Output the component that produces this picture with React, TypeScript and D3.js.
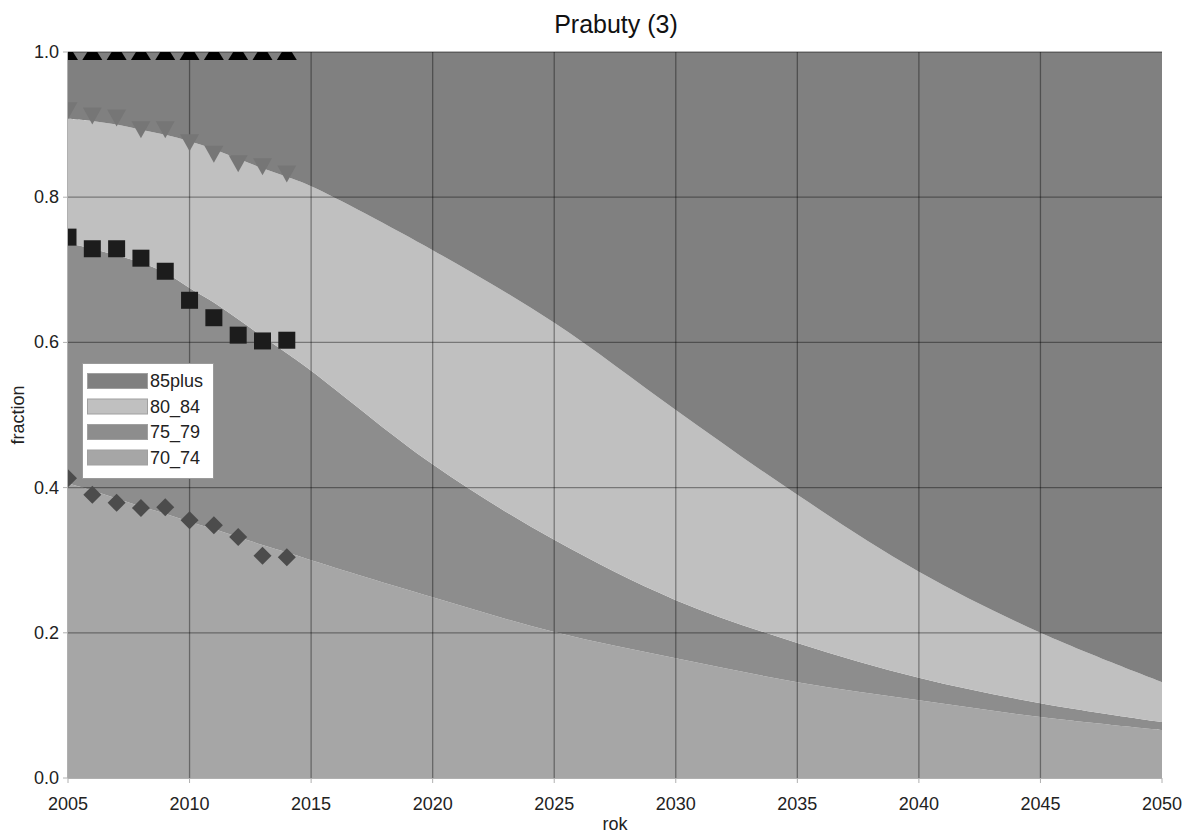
import React from "react";
import * as d3 from "d3";

// ---- data ----
const years = [2005, 2006, 2007, 2008, 2009, 2010, 2011, 2012, 2013, 2014, 2015, 2020, 2025, 2030, 2035, 2040, 2045, 2050];
const s70_74 = [0.406, 0.396, 0.385, 0.374, 0.364, 0.353, 0.343, 0.332, 0.321, 0.311, 0.300, 0.249, 0.201, 0.165, 0.132, 0.107, 0.084, 0.066];
const s75_79 = [0.331, 0.333, 0.335, 0.336, 0.332, 0.322, 0.312, 0.300, 0.287, 0.274, 0.261, 0.183, 0.127, 0.080, 0.054, 0.031, 0.019, 0.011];
const s80_84 = [0.171, 0.176, 0.180, 0.183, 0.190, 0.202, 0.211, 0.221, 0.232, 0.243, 0.254, 0.295, 0.299, 0.262, 0.204, 0.146, 0.097, 0.055];
const s85plus = [0.092, 0.095, 0.100, 0.107, 0.114, 0.123, 0.134, 0.147, 0.160, 0.172, 0.185, 0.273, 0.373, 0.493, 0.610, 0.716, 0.800, 0.868];

const obsYears = [2005, 2006, 2007, 2008, 2009, 2010, 2011, 2012, 2013, 2014];
const obs85 = [1, 1, 1, 1, 1, 1, 1, 1, 1, 1];
const obs80 = [0.919, 0.912, 0.909, 0.893, 0.893, 0.875, 0.859, 0.846, 0.842, 0.832];
const obs75 = [0.745, 0.729, 0.729, 0.716, 0.698, 0.658, 0.634, 0.610, 0.602, 0.603];
const obs70 = [0.413, 0.390, 0.379, 0.372, 0.373, 0.355, 0.348, 0.332, 0.306, 0.304];

const seriesKeys = ["70_74", "75_79", "80_84", "85plus"];
const legendKeys = ["85plus", "80_84", "75_79", "70_74"];
const xTicks = [2005, 2010, 2015, 2020, 2025, 2030, 2035, 2040, 2045, 2050];
const yTicks = [0, 0.2, 0.4, 0.6, 0.8, 1.0];
const title = "Prabuty (3)";
const xLabel = "rok";
const yLabel = "fraction";

const fills: Record<string, string> = {
  "85plus": "#808080",
  "80_84": "#c0c0c0",
  "75_79": "#8d8d8d",
  "70_74": "#a6a6a6",
};

const W = 1186;
const H = 835;
const M = { left: 68, right: 1162, top: 52, bottom: 778 };
const FONT = "'Liberation Sans', Arial, sans-serif";

export default function App() {
  const x = d3.scaleLinear().domain([2005, 2050]).range([M.left, M.right]);
  const y = d3.scaleLinear().domain([0, 1]).range([M.bottom, M.top]);

  const rows = years.map((yr, i) => ({
    year: yr,
    "70_74": s70_74[i],
    "75_79": s75_79[i],
    "80_84": s80_84[i],
    "85plus": s85plus[i],
  }));
  const stack = d3.stack<any>().keys(seriesKeys);
  const layers = stack(rows);
  const area = d3
    .area<any>()
    .x((d) => x(d.data.year))
    .y0((d) => y(d[0]))
    .y1((d) => y(d[1]))
    .curve(d3.curveCatmullRom.alpha(0.5));

  const triUp = (w: number, h: number) => `M0,${-h / 2}L${w / 2},${h / 2}L${-w / 2},${h / 2}Z`;
  const triDown = (w: number, h: number) => `M0,${h / 2}L${w / 2},${-h / 2}L${-w / 2},${-h / 2}Z`;
  const square = (s: number) => `M${-s / 2},${-s / 2}h${s}v${s}h${-s}Z`;
  const diamond = (r: number) => `M0,${-r}L${r},0L0,${r}L${-r},0Z`;

  const markerSets = [
    { vals: obs85, path: triUp(20, 16), fill: "#000000" },
    { vals: obs80, path: triDown(19, 17), fill: "#767676" },
    { vals: obs75, path: square(17), fill: "#1c1c1c" },
    { vals: obs70, path: diamond(9), fill: "#4c4c4c" },
  ];

  const gridColor = "rgba(0,0,0,0.38)";

  return (
    <svg
      width={W}
      height={H}
      style={{ position: "absolute", left: 0, top: 0, display: "block", background: "#fff" }}
      fontFamily={FONT}
    >
      <defs>
        <clipPath id="plotclip">
          <rect x={M.left} y={M.top} width={M.right - M.left} height={M.bottom - M.top} />
        </clipPath>
      </defs>

      {/* areas */}
      <g>
        {layers.map((layer) => (
          <path key={layer.key} d={area(layer) || ""} fill={fills[layer.key]} stroke="none" />
        ))}
      </g>

      {/* grid */}
      <g>
        {xTicks
          .filter((t) => t !== 2005 && t !== 2050)
          .map((t) => (
            <line key={"gx" + t} x1={x(t)} x2={x(t)} y1={M.top} y2={M.bottom} stroke={gridColor} strokeWidth={1.3} />
          ))}
        {yTicks
          .filter((t) => t !== 0)
          .map((t) => (
            <line key={"gy" + t} x1={M.left} x2={M.right} y1={y(t)} y2={y(t)} stroke={gridColor} strokeWidth={1.3} />
          ))}
      </g>

      {/* axes */}
      <g stroke="#b0b0b0" strokeWidth={1}>
        <line x1={M.left} x2={M.right} y1={M.bottom + 0.5} y2={M.bottom + 0.5} />
        <line x1={M.left - 0.5} x2={M.left - 0.5} y1={M.top} y2={M.bottom} />
        {xTicks.map((t) => (
          <line key={"tx" + t} x1={x(t)} x2={x(t)} y1={M.bottom} y2={M.bottom + 5} />
        ))}
        {yTicks.map((t) => (
          <line key={"ty" + t} x1={M.left - 5} x2={M.left} y1={y(t)} y2={y(t)} />
        ))}
      </g>

      {/* markers */}
      <g clipPath="url(#plotclip)">
        {markerSets.map((ms, si) =>
          ms.vals.map((v, i) => (
            <path
              key={si + "-" + i}
              d={ms.path}
              transform={`translate(${x(obsYears[i])},${y(v)})`}
              fill={ms.fill}
            />
          ))
        )}
      </g>

      {/* tick labels */}
      <g fontSize={18} fill="#222">
        {xTicks.map((t) => (
          <text key={"lx" + t} x={x(t)} y={810} textAnchor="middle">
            {t}
          </text>
        ))}
        {yTicks.map((t) => (
          <text key={"ly" + t} x={59} y={y(t) + 6} textAnchor="end">
            {t.toFixed(1)}
          </text>
        ))}
      </g>

      {/* axis titles */}
      <text x={(M.left + M.right) / 2} y={830} textAnchor="middle" fontSize={18} fill="#222">
        {xLabel}
      </text>
      <text
        transform={`translate(24,${(M.top + M.bottom) / 2}) rotate(-90)`}
        textAnchor="middle"
        fontSize={18}
        fill="#222"
      >
        {yLabel}
      </text>

      {/* title */}
      <text x={(M.left + M.right) / 2 + 1} y={33} textAnchor="middle" fontSize={25} fill="#111">
        {title}
      </text>

      {/* legend */}
      <g>
        <rect x={82.5} y={363.5} width={131} height={115} fill="#ffffff" stroke="#9a9a9a" strokeWidth={1} />
        {legendKeys.map((k, i) => (
          <g key={k} transform={`translate(0,${373 + i * 25.5})`}>
            <rect x={87.5} y={0.5} width={60} height={15} fill={fills[k]} stroke="#a0a0a0" strokeWidth={1} />
            <text x={150} y={14} fontSize={18} fill="#222">
              {k}
            </text>
          </g>
        ))}
      </g>
    </svg>
  );
}
